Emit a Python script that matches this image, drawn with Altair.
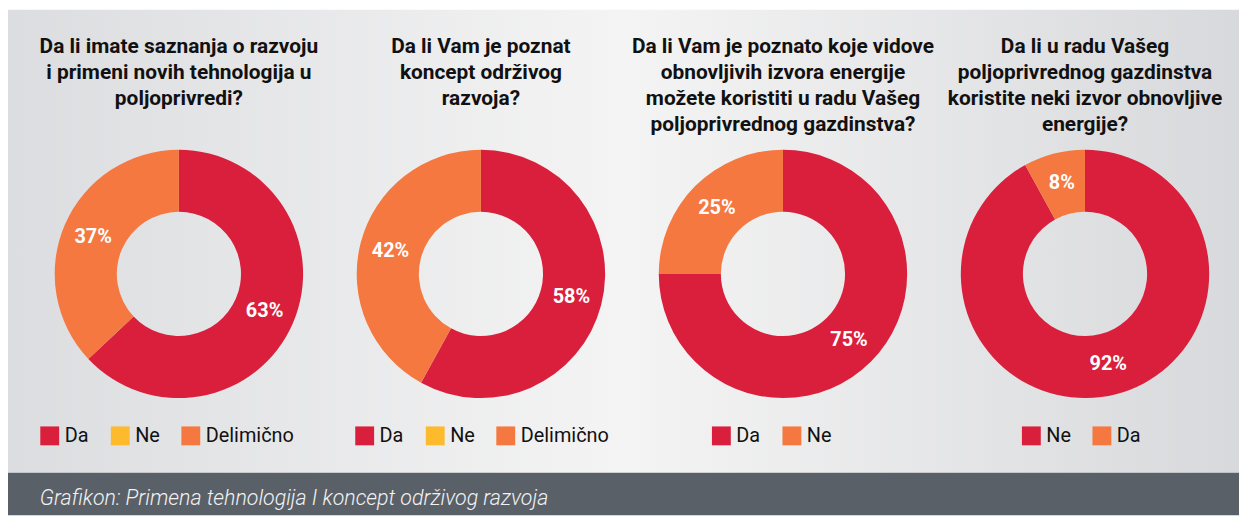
import altair as alt
import pandas as pd

# ---- data ----
panel_ids = [1, 2, 3, 4]
titles = [
    "Da li imate saznanja o razvoju\ni primeni novih tehnologija u\npoljoprivredi?",
    "Da li Vam je poznat\nkoncept održivog\nrazvoja?",
    "Da li Vam je poznato koje vidove\nobnovljivih izvora energije\nmožete koristiti u radu Vašeg\npoljoprivrednog gazdinstva?",
    "Da li u radu Vašeg\npoljoprivrednog gazdinstva\nkoristite neki izvor obnovljive\nenergije?",
]
categories = [
    ["Da", "Ne", "Delimično"],
    ["Da", "Ne", "Delimično"],
    ["Da", "Ne"],
    ["Ne", "Da"],
]
values = [
    [63, 0, 37],
    [58, 0, 42],
    [75, 25],
    [92, 8],
]
RED, YELLOW, ORANGE = "#DA1F3D", "#FDBA2C", "#F4783F"
palettes = [
    [RED, YELLOW, ORANGE],
    [RED, YELLOW, ORANGE],
    [RED, ORANGE],
    [RED, ORANGE],
]
footer_text = "Grafikon: Primena tehnologija I koncept održivog razvoja"

# ---- tables ----
rows = []
for p, cats, vals in zip(panel_ids, categories, values):
    for i, (c, v) in enumerate(zip(cats, vals)):
        rows.append({"panel": p, "cat": c, "value": v, "order": i, "label": f"{v}%"})
df = pd.DataFrame(rows)
title_df = pd.DataFrame({"panel": panel_ids, "title": titles})
footer_df = pd.DataFrame({"t": [footer_text]})
one_df = pd.DataFrame({"k": [0]})

W, H = 1239, 509
GRAY_H = 466
CY = 266
legend_x = [32, 349, 708, 1020]

x_enc = alt.X("panel:N", scale=alt.Scale(type="point", domain=panel_ids, range=[172, 1084], padding=0), axis=None)
theta_scale = alt.Scale(domain=[0, 1])

base = (
    alt.Chart(df)
    .transform_stack(stack="value", as_=["v0", "v1"], groupby=["panel"],
                     offset="normalize", sort=[alt.SortField("order", "ascending")])
    .transform_calculate(mid="(datum.v0 + datum.v1) / 2")
)

bg = alt.Chart(one_df).mark_rect(
    fill=alt.LinearGradient(
        gradient="linear",
        stops=[
            alt.GradientStop(color="#dcdde0", offset=0),
            alt.GradientStop(color="#f4f4f4", offset=0.5),
            alt.GradientStop(color="#d8d9dc", offset=1),
        ],
        x1=0, x2=1, y1=0, y2=0,
    )
).encode(x=alt.value(0), x2=alt.value(W), y=alt.value(0), y2=alt.value(GRAY_H))

footer_bar = alt.Chart(one_df).mark_rect(fill="#5a6068").encode(
    x=alt.value(0), x2=alt.value(W), y=alt.value(GRAY_H), y2=alt.value(H)
)

arcs = []
for idx, (p, cats, pal) in enumerate(zip(panel_ids, categories, palettes)):
    arcs.append(
        base.transform_filter(alt.datum.panel == p)
        .mark_arc(radius=125, radius2=62.5)
        .encode(
            x=x_enc,
            y=alt.value(CY),
            theta=alt.Theta("v0:Q", stack=None, scale=theta_scale),
            theta2="v1:Q",
            color=alt.Color(
                "cat:N",
                scale=alt.Scale(domain=cats, range=pal),
                legend=alt.Legend(
                    orient="none", legendX=legend_x[idx], legendY=419,
                    direction="horizontal", title=None,
                    symbolType="square", symbolSize=361, symbolStrokeWidth=0,
                    symbolOpacity=1,
                    labelFont="Roboto", labelFontSize=20, labelColor="#111111",
                    labelOffset=5, columnPadding=21, padding=0,
                ),
            ),
        )
    )

labels = (
    base.transform_filter("datum.value > 0")
    .mark_text(radius=94, font="Roboto", fontSize=20, fontWeight="bold", color="white",
               align="center", baseline="middle")
    .encode(
        x=x_enc,
        y=alt.value(CY),
        theta=alt.Theta("mid:Q", stack=None, scale=theta_scale),
        text="label:N",
    )
)

title_marks = alt.Chart(title_df).mark_text(
    font="Roboto", fontSize=21, fontWeight="bold", color="#111111",
    lineBreak="\n", lineHeight=26, align="center", baseline="alphabetic",
).encode(x=x_enc, y=alt.value(44), text="title:N")

footer = alt.Chart(footer_df).mark_text(
    font="Roboto", fontSize=21.5, fontStyle="italic", fontWeight=300, color="#f2f2f2",
    align="left", baseline="alphabetic",
).encode(x=alt.value(32), y=alt.value(499), text="t:N")

chart = (
    alt.layer(bg, footer_bar, *arcs, labels, title_marks, footer)
    .resolve_scale(color="independent")
    .properties(width=W, height=H, autosize=alt.AutoSizeParams(type="none"), padding=0)
    .configure_view(stroke=None)
)

chart.save("out.html", embed_options={"renderer": "svg", "actions": False})
